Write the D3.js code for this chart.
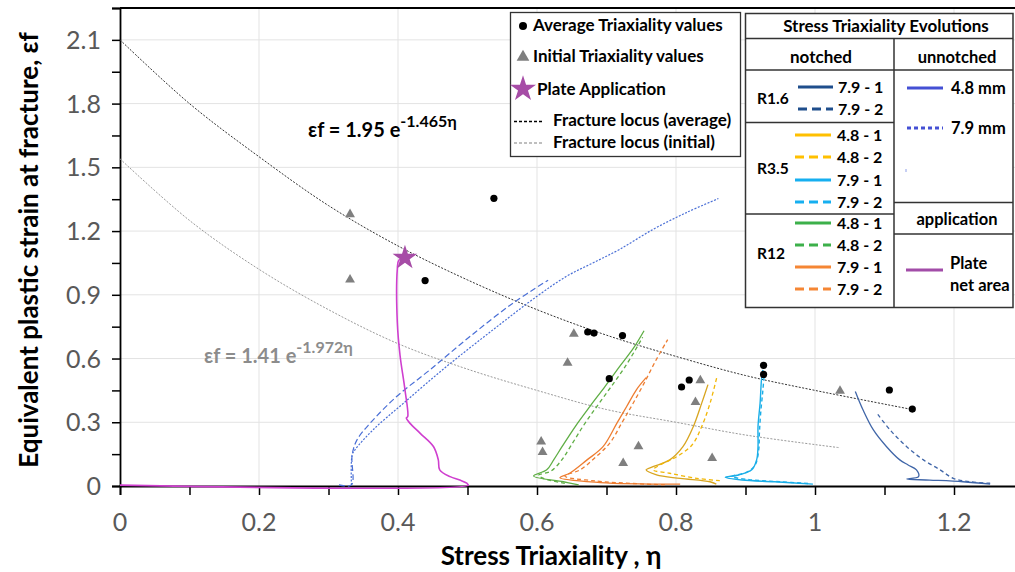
<!DOCTYPE html>
<html>
<head>
<meta charset="utf-8">
<script src="https://cdn.jsdelivr.net/npm/d3@7"></script>
<style>
  body { margin: 0; background: #fff; }
  svg { display: block; font-family: Lato, "Open Sans", sans-serif; }
  .tick-label { fill: #595959; font-size: 25px; }
  .bold { font-weight: bold; }
</style>
</head>
<body>
<svg width="1015" height="572"></svg>
<script>
// ---- data (eta, eps) ----
const xTickValues = [0, 0.2, 0.4, 0.6, 0.8, 1, 1.2];
const yTickValues = [0, 0.3, 0.6, 0.9, 1.2, 1.5, 1.8, 2.1];

const avgPoints = [[0.538,1.354],[0.439,0.967],[0.673,0.725],[0.682,0.72],[0.723,0.708],
                   [0.704,0.505],[0.819,0.499],[0.808,0.466],[0.926,0.568],[0.926,0.525],
                   [1.107,0.452],[1.14,0.362]];
const initPoints = [[0.331,1.279],[0.331,0.971],[0.653,0.716],[0.644,0.579],[0.835,0.497],
                    [0.828,0.395],[0.606,0.209],[0.608,0.159],[0.746,0.186],[0.724,0.107],
                    [0.852,0.131],[1.036,0.448]];
const platePoint = [0.41, 1.074];

const locusAvg  = [[0,2.10],[0.1,1.80],[0.2,1.55],[0.3,1.32],[0.4,1.13],[0.5,0.97],[0.6,0.83],
                   [0.7,0.71],[0.8,0.61],[0.9,0.52],[1.0,0.45],[1.14,0.36]];
const locusInit = [[0,1.54],[0.1,1.25],[0.2,1.02],[0.3,0.83],[0.4,0.67],[0.5,0.55],[0.6,0.45],
                   [0.7,0.36],[0.8,0.30],[0.9,0.24],[1.036,0.18]];

const r16_79_1 = [[1.252,0.009],[1.213,0.020],[1.165,0.028],[1.132,0.033],[1.149,0.044],[1.146,0.076],
                  [1.134,0.099],[1.122,0.123],[1.103,0.185],[1.084,0.264],[1.069,0.359],[1.058,0.445]];
const r16_79_2 = [[1.252,0.013],[1.223,0.020],[1.199,0.036],[1.180,0.076],[1.156,0.123],
                  [1.132,0.185],[1.108,0.264],[1.089,0.343]];
const r35_48_1 = [[0.858,0.009],[0.849,0.020],[0.806,0.036],[0.772,0.052],[0.757,0.076],[0.767,0.091],
                  [0.791,0.123],[0.810,0.185],[0.825,0.280],[0.837,0.390],[0.846,0.477]];
const r35_48_2 = [[0.863,0.025],[0.830,0.036],[0.791,0.060],[0.767,0.076],[0.777,0.099],[0.801,0.138],
                  [0.823,0.193],[0.837,0.280],[0.849,0.390],[0.859,0.516]];
const r35_79_1 = [[0.997,0.009],[0.942,0.020],[0.895,0.028],[0.871,0.041],[0.890,0.052],[0.909,0.076],
                  [0.916,0.123],[0.918,0.185],[0.918,0.280],[0.921,0.390],[0.923,0.500],[0.925,0.547]];
const r35_79_2 = [[0.990,0.012],[0.950,0.020],[0.905,0.030],[0.880,0.045],[0.902,0.065],[0.914,0.100],
                  [0.919,0.170],[0.920,0.250],[0.922,0.350],[0.925,0.450],[0.927,0.530]];
const r12_48_1 = [[0.660,0.005],[0.638,0.020],[0.595,0.047],[0.614,0.076],[0.624,0.123],[0.636,0.185],
                  [0.655,0.280],[0.676,0.374],[0.698,0.469],[0.719,0.563],[0.739,0.650],[0.754,0.731]];
const r12_48_2 = [[0.640,0.012],[0.610,0.035],[0.602,0.050],[0.620,0.070],[0.635,0.120],[0.648,0.185],
                  [0.666,0.280],[0.686,0.374],[0.707,0.469],[0.727,0.563],[0.745,0.660],[0.752,0.700]];
const r12_79_1 = [[0.806,0.009],[0.691,0.016],[0.633,0.039],[0.647,0.060],[0.672,0.123],[0.695,0.185],
                  [0.715,0.296],[0.729,0.374],[0.743,0.453],[0.757,0.510]];
const r12_79_2 = [[0.784,0.005],[0.683,0.024],[0.640,0.047],[0.662,0.076],[0.683,0.132],[0.705,0.203],
                  [0.722,0.297],[0.737,0.382],[0.753,0.477],[0.770,0.585],[0.788,0.689]];
const unnotched48 = [[0.315,0.005],[0.333,0.005],[0.334,0.146],[0.341,0.217],[0.360,0.296],[0.398,0.421],
                     [0.446,0.547],[0.504,0.705],[0.566,0.862],[0.616,0.969]];
const unnotched79 = [[0.333,0.005],[0.334,0.146],[0.338,0.170],[0.364,0.264],[0.408,0.390],[0.470,0.563],
                     [0.537,0.736],[0.600,0.893],[0.643,0.988],[0.681,1.051],[0.719,1.114],[0.767,1.208],
                     [0.815,1.287],[0.861,1.353]];
const plateNet = [[0,0.004],[0.501,0.004],[0.499,0.013],[0.489,0.028],[0.475,0.044],[0.460,0.076],
                  [0.458,0.123],[0.451,0.186],[0.432,0.248],[0.417,0.296],[0.412,0.320],[0.414,0.327],
                  [0.410,0.453],[0.403,0.613],[0.399,0.771],[0.399,1.020],[0.401,1.062],[0.41,1.074]];

// ---- colours ----
const colors = {
  r16: '#2f5597', yellow: '#f2b705', cyan: '#1aaee8', green: '#5fae45',
  orange: '#ee7d31', unBlue: '#4a6fd6', unLegend: '#4450d4', plate: '#cf3fcf',
  plateLegend: '#a24ca8', star: '#a64ca6'
};

const series = [
  { data: locusAvg,  color: '#333',    dash: '2,1.5', w: 1 },
  { data: locusInit, color: '#9a9a9a', dash: '2,1.5', w: 1 },
  { data: unnotched48, color: colors.unBlue, dash: '6,3', w: 1.2 },
  { data: unnotched79, color: colors.unBlue, dash: '2,1.5', w: 1.2 },
  { data: plateNet, color: colors.plate, dash: null, w: 1.6 },
  { data: r12_48_1, color: colors.green, dash: null, w: 1.3 },
  { data: r12_48_2, color: colors.green, dash: '4,3', w: 1.3 },
  { data: r12_79_1, color: colors.orange, dash: null, w: 1.3 },
  { data: r12_79_2, color: colors.orange, dash: '4,3', w: 1.3 },
  { data: r35_48_1, color: '#d8a520', dash: null, w: 1.3 },
  { data: r35_48_2, color: colors.yellow, dash: '4,3', w: 1.3 },
  { data: r35_79_1, color: colors.cyan, dash: null, w: 1.4 },
  { data: r35_79_2, color: colors.cyan, dash: '4,3', w: 1.4 },
  { data: r16_79_1, color: '#4066a8', dash: null, w: 1.3 },
  { data: r16_79_2, color: '#4066a8', dash: '4,3', w: 1.3 }
];

// ---- setup ----
const svg = d3.select('svg');
const width = 1015, height = 572;
const x = d3.scaleLinear().domain([0, 1.3]).range([120, 1023.5]);
const y = d3.scaleLinear().domain([0, 2.25]).range([486, 8]);

// gridlines
svg.append('g').selectAll('line.hg')
  .data(yTickValues.filter(d => d > 0))
  .join('line')
    .attr('x1', x(0)).attr('x2', width)
    .attr('y1', d => y(d)).attr('y2', d => y(d))
    .attr('stroke', '#e3e3e3').attr('stroke-width', 1);
svg.append('g').selectAll('line.vg')
  .data(xTickValues.filter(d => d > 0))
  .join('line')
    .attr('x1', d => x(d)).attr('x2', d => x(d))
    .attr('y1', y(2.25)).attr('y2', y(0))
    .attr('stroke', '#e3e3e3').attr('stroke-width', 1);

// axes
const xAxis = d3.axisBottom(x).tickValues(d3.range(0, 1.31, 0.1)).tickSize(9).tickFormat('');
svg.append('g').attr('transform', `translate(0,${y(0)})`).call(xAxis)
  .call(g => g.select('.domain').attr('stroke', '#000').attr('stroke-width', 1.8))
  .call(g => g.selectAll('.tick line').attr('stroke', '#000').attr('stroke-width', 1.5));
const yAxis = d3.axisLeft(y).tickValues(d3.range(0, 2.26, 0.15)).tickSize(8).tickFormat('');
svg.append('g').attr('transform', `translate(${x(0)},0)`).call(yAxis)
  .call(g => g.select('.domain').attr('stroke', '#000').attr('stroke-width', 1.8))
  .call(g => g.selectAll('.tick line').attr('stroke', '#000').attr('stroke-width', 1.5));

// top border
svg.append('line').attr('x1', x(0)).attr('x2', width).attr('y1', y(2.25)).attr('y2', y(2.25))
  .attr('stroke', '#000').attr('stroke-width', 2.2);

// tick labels
svg.append('g').selectAll('text')
  .data(xTickValues).join('text')
    .attr('class', 'tick-label')
    .attr('x', d => x(d)).attr('y', 531)
    .attr('text-anchor', 'middle')
    .text(d => d);
svg.append('g').selectAll('text')
  .data(yTickValues).join('text')
    .attr('class', 'tick-label')
    .attr('x', 101).attr('y', d => y(d) + 9)
    .attr('text-anchor', 'end')
    .text(d => d === 0 ? '0' : d.toFixed(1));

// axis titles
svg.append('text').attr('class', 'bold')
  .attr('transform', 'translate(38,250) rotate(-90)')
  .attr('text-anchor', 'middle').attr('font-size', 26).attr('fill', '#000')
  .text('Equivalent plastic strain at fracture, εf');
svg.append('text').attr('class', 'bold')
  .attr('x', 551).attr('y', 565).attr('text-anchor', 'middle')
  .attr('font-size', 26).attr('fill', '#000')
  .text('Stress Triaxiality , η');

// curves
const line = d3.line().x(d => x(d[0])).y(d => y(d[1])).curve(d3.curveCatmullRom.alpha(0.5));
svg.append('g').selectAll('path')
  .data(series).join('path')
    .attr('d', d => line(d.data))
    .attr('fill', 'none')
    .attr('stroke', d => d.color)
    .attr('stroke-width', d => d.w)
    .attr('stroke-dasharray', d => d.dash);

// markers
svg.append('g').selectAll('circle')
  .data(avgPoints).join('circle')
    .attr('cx', d => x(d[0])).attr('cy', d => y(d[1])).attr('r', 3.6).attr('fill', '#000');
const tri = d3.symbol(d3.symbolTriangle, 42);
svg.append('g').selectAll('path')
  .data(initPoints).join('path')
    .attr('d', tri)
    .attr('transform', d => `translate(${x(d[0])},${y(d[1])})`)
    .attr('fill', '#7f7f7f');
svg.append('path')
  .attr('d', d3.symbol(d3.symbolStar, 190)())
  .attr('transform', `translate(${x(platePoint[0])},${y(platePoint[1])})`)
  .attr('fill', colors.star);

// equations
const eq1 = svg.append('text').attr('class', 'bold').attr('x', 308).attr('y', 137)
  .attr('font-size', 20).attr('fill', '#000');
eq1.append('tspan').text('εf = 1.95 e');
eq1.append('tspan').attr('dy', -10).attr('font-size', 16).text('-1.465η');
const eq2 = svg.append('text').attr('class', 'bold').attr('x', 204).attr('y', 363)
  .attr('font-size', 20).attr('fill', '#8c8c8c');
eq2.append('tspan').text('εf = 1.41 e');
eq2.append('tspan').attr('dy', -10).attr('font-size', 16).text('-1.972η');

// ---- legend 1 ----
const leg1 = svg.append('g');
leg1.append('rect').attr('x', 510.5).attr('y', 12.5).attr('width', 230).attr('height', 144)
  .attr('fill', '#fff').attr('stroke', '#333').attr('stroke-width', 1.3);
const leg1Items = ['Average Triaxiality values', 'Initial Triaxiality values', 'Plate Application',
                   'Fracture locus (average)', 'Fracture locus (initial)'];
const leg1Y = [31, 62, 95, 126, 148];
const leg1X = [533, 533, 537, 553, 553];
leg1.selectAll('text').data(leg1Items).join('text')
  .attr('class', 'bold').attr('font-size', 17).attr('fill', '#000')
  .attr('x', (d, i) => leg1X[i]).attr('y', (d, i) => leg1Y[i]).text(d => d);
leg1.append('circle').attr('cx', 523).attr('cy', 26).attr('r', 4).attr('fill', '#000');
leg1.append('path').attr('d', d3.symbol(d3.symbolTriangle, 70)())
  .attr('transform', 'translate(523,57)').attr('fill', '#7f7f7f');
leg1.append('path').attr('d', d3.symbol(d3.symbolStar, 210)())
  .attr('transform', 'translate(523,89)').attr('fill', colors.star);
leg1.append('line').attr('x1', 514).attr('x2', 544).attr('y1', 121.5).attr('y2', 121.5)
  .attr('stroke', '#000').attr('stroke-width', 1.3).attr('stroke-dasharray', '3,2');
leg1.append('line').attr('x1', 514).attr('x2', 544).attr('y1', 143).attr('y2', 143)
  .attr('stroke', '#aaa').attr('stroke-width', 1.3).attr('stroke-dasharray', '3,2');

// ---- legend 2 (table) ----
const leg2 = svg.append('g');
const tblL = 745.5, tblR = 1013, tblT = 13.5, tblB = 307.5, colX = 894;
leg2.append('rect').attr('x', tblL).attr('y', tblT).attr('width', tblR - tblL).attr('height', tblB - tblT)
  .attr('fill', '#fff').attr('stroke', '#333').attr('stroke-width', 1.5);
const tblLines = [
  [tblL, 38.5, tblR, 38.5], [tblL, 70, tblR, 70], [colX, 38.5, colX, tblB],
  [tblL, 122.5, colX, 122.5], [tblL, 214, colX, 214], [colX, 202.5, tblR, 202.5], [colX, 234, tblR, 234]
];
leg2.selectAll('line.grid').data(tblLines).join('line')
  .attr('x1', d => d[0]).attr('y1', d => d[1]).attr('x2', d => d[2]).attr('y2', d => d[3])
  .attr('stroke', '#333').attr('stroke-width', 1.5);

const headTexts = [['Stress Triaxiality Evolutions', 886, 32, 17], ['notched', 821, 63, 17],
                   ['unnotched', 957, 63, 16.5], ['application', 957, 225, 16.5]];
leg2.selectAll('text.head').data(headTexts).join('text')
  .attr('class', 'bold').attr('text-anchor', 'middle')
  .attr('x', d => d[1]).attr('y', d => d[2]).attr('font-size', d => d[3]).text(d => d[0]);

const groupLabels = [['R1.6', 757, 104], ['R3.5', 757, 174], ['R12', 757, 259]];
leg2.selectAll('text.grp').data(groupLabels).join('text')
  .attr('class', 'bold').attr('font-size', 15.5)
  .attr('x', d => d[1]).attr('y', d => d[2]).text(d => d[0]);

const notchedRows = [
  ['7.9 - 1', 87, '#1f4e8c', null], ['7.9 - 2', 109, '#1f4e8c', '9,5'],
  ['4.8 - 1', 135, '#ffc000', null], ['4.8 - 2', 157, '#ffc000', '9,5'],
  ['7.9 - 1', 180, '#16aff0', null], ['7.9 - 2', 202, '#16aff0', '9,5'],
  ['4.8 - 1', 223, '#3cb04a', null], ['4.8 - 2', 245, '#3cb04a', '9,5'],
  ['7.9 - 1', 267, '#f58634', null], ['7.9 - 2', 289, '#f58634', '9,5']
];
leg2.selectAll('line.row').data(notchedRows).join('line')
  .attr('x1', (d, i) => i < 2 ? 798 : 795).attr('x2', (d, i) => i < 2 ? 833 : 831)
  .attr('y1', d => d[1]).attr('y2', d => d[1])
  .attr('stroke', d => d[2]).attr('stroke-width', 3.2).attr('stroke-dasharray', d => d[3]);
leg2.selectAll('text.row').data(notchedRows).join('text')
  .attr('class', 'bold').attr('font-size', 16)
  .attr('x', (d, i) => i < 2 ? 838 : 837).attr('y', d => d[1] + 6).text(d => d[0]);

const unRows = [['4.8 mm', 88, null], ['7.9 mm', 128, '4,3']];
leg2.selectAll('line.un').data(unRows).join('line')
  .attr('x1', 907).attr('x2', 943).attr('y1', d => d[1]).attr('y2', d => d[1])
  .attr('stroke', colors.unLegend).attr('stroke-width', 3.2).attr('stroke-dasharray', d => d[2]);
leg2.selectAll('text.un').data(unRows).join('text')
  .attr('class', 'bold').attr('font-size', 16.5)
  .attr('x', 951).attr('y', d => d[1] + 6).text(d => d[0]);
leg2.append('line').attr('x1', 906).attr('x2', 906).attr('y1', 169).attr('y2', 172)
  .attr('stroke', '#8fa0e8').attr('stroke-width', 1);

leg2.append('line').attr('x1', 906).attr('x2', 943).attr('y1', 270).attr('y2', 270)
  .attr('stroke', colors.plateLegend).attr('stroke-width', 3.2);
leg2.append('text').attr('class', 'bold').attr('font-size', 16.5).attr('x', 950).attr('y', 269).text('Plate');
leg2.append('text').attr('class', 'bold').attr('font-size', 16.5).attr('x', 950).attr('y', 291).text('net area');
</script>
</body>
</html>
